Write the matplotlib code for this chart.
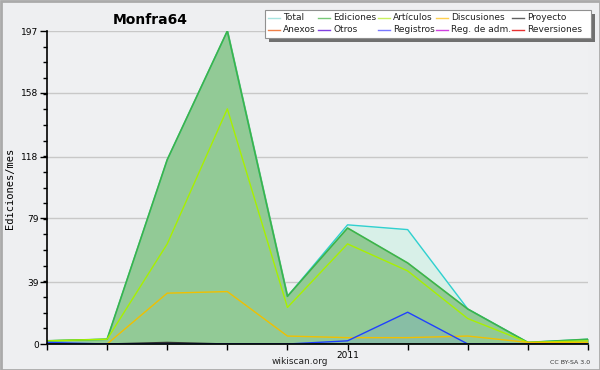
import matplotlib
matplotlib.use("Agg")
import matplotlib.pyplot as plt
from matplotlib.lines import Line2D
from matplotlib.patches import Rectangle
import numpy as np

months = ["2010-08", "2010-09", "2010-10", "2010-11", "2010-12",
          "2011-01", "2011-02", "2011-03", "2011-04", "2011-05"]
tick_labels = ["", "", "", "", "", "2011", "", "", "", ""]

total = [2, 3, 116, 197, 30, 75, 72, 22, 1, 3]
ediciones = [2, 3, 116, 197, 30, 73, 51, 22, 1, 3]
articulos = [2, 3, 63, 148, 23, 63, 46, 16, 1, 2]
discusiones = [0, 0, 32, 33, 5, 4, 4, 5, 1, 1]
proyecto = [0, 0, 1, 0, 0, 0, 0, 0, 0, 0]
registros = [1, 0, 0, 0, 0, 2, 20, 0, 0, 0]

legend_labels = ["Total", "Ediciones", "Artículos", "Discusiones", "Proyecto",
                 "Anexos", "Otros", "Registros", "Reg. de adm.", "Reversiones"]
legend_colors = ["#a8e4e0", "#78c878", "#c8f060", "#ffd050", "#606060",
                 "#f08048", "#8040e0", "#7878ff", "#d040e0", "#e83030"]

bg = "#eeeff1"
fig = plt.figure(figsize=(6, 3.7), dpi=100, facecolor=bg)
ax = fig.add_axes([47/600, 26/370, 541/600, 313/370])
ax.set_facecolor("#eff0f2")

x = np.arange(len(months))

ax.fill_between(x, total, color="#d8f0e8", zorder=1)
ax.plot(x, total, color="#30d0d0", lw=1, zorder=3)
ax.fill_between(x, ediciones, color="#92ca96", zorder=2)
ax.plot(x, ediciones, color="#3cb44a", lw=1.2, zorder=4)
ax.fill_between(x, registros, color="#5080ff", alpha=0.15, lw=0, zorder=2.5)
ax.plot(x, articulos, color="#a8f000", lw=1, zorder=5)
ax.plot(x, discusiones, color="#f0c000", lw=1, zorder=5)
ax.plot(x, proyecto, color="#303030", lw=1, zorder=5)
ax.plot(x, registros, color="#2040ff", lw=1, zorder=6)

ax.set_xlim(0, len(x) - 1)
ax.set_ylim(0, 197)
ax.set_xticks(x)
ax.set_xticklabels(tick_labels, fontsize=6.5)
yt = [0, 39, 79, 118, 158, 197]
ax.set_yticks(yt)
ax.set_yticklabels([str(v) for v in yt], fontsize=6.5)
ax.set_yticks(np.arange(0, 197, 197/20), minor=True)
ax.tick_params(axis="y", which="major", length=5, width=1, pad=1)
ax.tick_params(axis="y", which="minor", length=3, width=1)
ax.tick_params(axis="x", length=4, width=1, pad=1)
ax.grid(axis="y", color="#c8c8c8", lw=1, zorder=0)
ax.set_axisbelow(True)
for s in ["top", "right"]:
    ax.spines[s].set_visible(False)
ax.spines["left"].set_linewidth(1.2)
ax.spines["bottom"].set_linewidth(1.2)
ax.spines["left"].set_zorder(10)
ax.spines["bottom"].set_zorder(10)

fig.text(10/600, 1 - 188/370, "Ediciones/mes", fontsize=7.5, family="DejaVu Sans Mono",
         rotation=90, ha="center", va="center")

fig.text(150/600, 1 - 20/370, "Monfra64", fontsize=10, fontweight="bold",
         ha="center", va="center")
fig.text(300/600, 1 - 361/370, "wikiscan.org", fontsize=6.5, ha="center", va="center",
         color="#222222")
fig.text(570/600, 1 - 362/370, "CC BY-SA 3.0", fontsize=4.5, ha="center", va="center",
         color="#333333")

# legend box with shadow
lx0, ly0, lx1, ly1 = 265, 10, 591, 38
w = (lx1 - lx0) / 600
h = (ly1 - ly0) / 370
fig.add_artist(Rectangle(((lx0 + 4) / 600, 1 - (ly1 + 4) / 370), w, h,
                         transform=fig.transFigure, facecolor="#707070", edgecolor="none",
                         zorder=20))
fig.add_artist(Rectangle((lx0 / 600, 1 - ly1 / 370), w, h,
                         transform=fig.transFigure, facecolor="white", edgecolor="#909090",
                         lw=0.8, zorder=21))
col_x = [268, 318, 378, 436, 512]
row_y = [18, 30]
for i, (lab, col) in enumerate(zip(legend_labels, legend_colors)):
    r, c = divmod(i, 5)
    xs = col_x[c]
    yy = 1 - row_y[r] / 370
    fig.add_artist(Line2D([xs / 600, (xs + 12) / 600], [yy, yy], transform=fig.transFigure,
                          color=col, lw=1, zorder=22))
    fig.text((xs + 15) / 600, yy, lab, fontsize=6.5, ha="left", va="center",
             color="#222222", zorder=22)

fig.add_artist(Rectangle((0.5 / 600, 0.5 / 370), 599 / 600, 369 / 370, transform=fig.transFigure,
                         facecolor="none", edgecolor="#aaaaaa", lw=2, zorder=30))

fig.savefig("out.png", dpi=100, facecolor=bg)
